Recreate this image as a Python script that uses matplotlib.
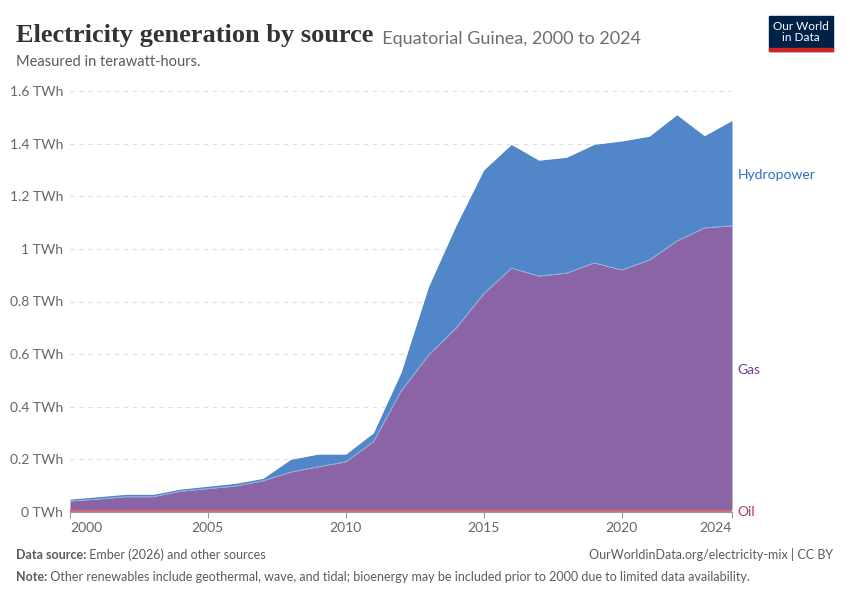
import matplotlib
matplotlib.use("Agg")
import matplotlib.pyplot as plt
import numpy as np
from matplotlib.patches import Rectangle

years = list(range(2000, 2025))
oil = [0.01] * 25
gas = [0.032, 0.039, 0.048, 0.048, 0.069, 0.079, 0.089, 0.109, 0.142, 0.162, 0.181,
       0.258, 0.45, 0.587, 0.69, 0.82, 0.917, 0.887, 0.898, 0.937, 0.91, 0.948,
       1.02, 1.07, 1.078]
hydro = [0.007, 0.009, 0.009, 0.009, 0.008, 0.009, 0.010, 0.009, 0.048, 0.048, 0.029,
         0.033, 0.07, 0.26, 0.39, 0.47, 0.47, 0.44, 0.44, 0.45, 0.49, 0.47,
         0.48, 0.35, 0.40]
yticks = [0, 0.2, 0.4, 0.6, 0.8, 1.0, 1.2, 1.4, 1.6]
ytick_labels = ["0 TWh", "0.2 TWh", "0.4 TWh", "0.6 TWh", "0.8 TWh", "1 TWh",
                "1.2 TWh", "1.4 TWh", "1.6 TWh"]
xticks = [2000, 2005, 2010, 2015, 2020, 2024]

plt.rcParams['font.family'] = ['Lato', 'DejaVu Sans']

fig = plt.figure(figsize=(8.5, 6), dpi=100)
ax = fig.add_axes([70/850, 1-512/600, (732-70)/850, (512-91)/600])

x = np.array(years)
o = np.array(oil)
g = np.array(gas)
h = np.array(hydro)
c_oil = "#d36d7c"
c_gas = "#8a64a4"
c_hyd = "#5187c8"
ax.fill_between(x, 0, o, color=c_oil, lw=0)
ax.fill_between(x, o, o + g, color=c_gas, lw=0)
ax.fill_between(x, o + g, o + g + h, color=c_hyd, lw=0)
ax.plot(x, o + g, color="white", lw=0.4, alpha=0.5)
ax.plot(x, o + g + h, color="white", lw=0.4, alpha=0.5)

ax.set_xlim(2000, 2024)
ax.set_ylim(0, 1.6)
ax.set_yticks(yticks)
ax.set_yticklabels(ytick_labels)
ax.set_xticks(xticks)
ax.set_xticklabels([str(t) for t in xticks])
for s in ["top", "right", "left"]:
    ax.spines[s].set_visible(False)
ax.spines["bottom"].set_color("#999999")
ax.spines["bottom"].set_linewidth(0.8)
ax.tick_params(axis="y", length=0, pad=5, labelsize=10, labelcolor="#666666")
ax.tick_params(axis="x", length=4, width=0.8, color="#999999", pad=3,
               labelsize=10, labelcolor="#666666")
xl = ax.get_xticklabels()
xl[0].set_horizontalalignment("left")
xl[-1].set_horizontalalignment("right")
ax.grid(axis="y", color="#dddddd", linestyle=(0, (4, 4)), lw=0.8)
ax.set_axisbelow(True)
ax.set_clip_on(False)

# series labels
ax.text(2024.2, 1.28, "Hydropower", color="#2e6dbf", fontsize=10, va="center", ha="left")
ax.text(2024.2, 0.54, "Gas", color="#6d3e91", fontsize=10, va="center", ha="left")
ax.text(2024.2, 0.0, "Oil", color="#b13b53", fontsize=10, va="center", ha="left")

# title
t = fig.text(16/850, 1-42/600, "Electricity generation by source", fontsize=19,
             family=["Liberation Serif"], weight="bold", color="#333333", va="baseline")
ax.annotate("  Equatorial Guinea, 2000 to 2024", xy=(1, 0), xycoords=t,
            xytext=(0, 0), textcoords="offset points", fontsize=13,
            color="#6e6e6e", va="bottom", ha="left")
fig.text(16/850, 1-66/600, "Measured in terawatt-hours.", fontsize=10.5,
         color="#5b5b5b", va="baseline")

# logo
fig.patches.append(Rectangle((769/850, 1-51/600), 64/850, 35/600,
                             transform=fig.transFigure, color="#002147", zorder=5))
fig.patches.append(Rectangle((769/850, 1-51/600), 64/850, 3/600,
                             transform=fig.transFigure, color="#ce261e", zorder=6))
fig.text(801/850, 1-32/600, "Our World\nin Data", color="white", fontsize=8.5,
         ha="center", va="center", linespacing=1.0, zorder=7)

# footer
f1 = fig.text(16/850, 1-559/600, "Data source:", fontsize=9, weight="bold",
              color="#5b5b5b", va="baseline")
ax.annotate(" Ember (2026) and other sources", xy=(1, 0), xycoords=f1,
            fontsize=9, color="#5b5b5b", va="bottom", ha="left")
fig.text(833/850, 1-559/600, "OurWorldinData.org/electricity-mix | CC BY",
         fontsize=9, color="#5b5b5b", va="baseline", ha="right")
f2 = fig.text(16/850, 1-581/600, "Note:", fontsize=9, weight="bold",
              color="#5b5b5b", va="baseline")
ax.annotate(" Other renewables include geothermal, wave, and tidal; bioenergy may be included prior to 2000 due to limited data availability.",
            xy=(1, 0), xycoords=f2, fontsize=9, color="#5b5b5b", va="bottom", ha="left")

fig.savefig("out.png", dpi=100)
